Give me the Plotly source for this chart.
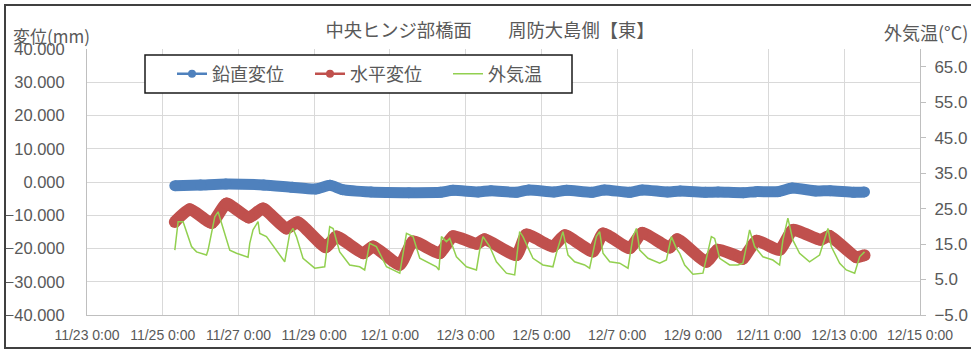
import plotly.graph_objects as go

# 鉛直変位 (mm)
vert_time = [
    "2019-11-25 07:40", "2019-11-26 00:00", "2019-11-26 16:00", "2019-11-27 16:00",
    "2019-11-28 10:00", "2019-11-29 01:00", "2019-11-29 10:00", "2019-11-29 18:00",
    "2019-11-30 12:00", "2019-12-01 12:00", "2019-12-02 08:00", "2019-12-02 16:00",
    "2019-12-03 08:00", "2019-12-03 16:00", "2019-12-04 08:00", "2019-12-04 16:00",
    "2019-12-05 08:00", "2019-12-05 16:00", "2019-12-06 08:00", "2019-12-06 16:00",
    "2019-12-07 08:00", "2019-12-07 16:00", "2019-12-08 08:00", "2019-12-08 16:00",
    "2019-12-09 08:00", "2019-12-09 16:00", "2019-12-10 08:00", "2019-12-10 16:00",
    "2019-12-11 06:00", "2019-12-11 15:00", "2019-12-12 06:00", "2019-12-12 15:00",
    "2019-12-13 06:00", "2019-12-13 12:50",
]
vert_mm = [
    -1.1, -0.9, -0.6, -0.9,
    -1.6, -2.1, -1.0, -2.3,
    -3.0, -3.2, -3.1, -2.5,
    -3.0, -2.6, -3.1, -2.4,
    -3.0, -2.5, -3.1, -2.4,
    -3.1, -2.4, -3.0, -2.7,
    -3.1, -3.0, -3.2, -2.9,
    -2.9, -1.8, -2.7, -2.6,
    -3.1, -3.0,
]

# 水平変位 (mm)
horiz_time = [
    "2019-11-25 07:40", "2019-11-25 17:10", "2019-11-26 07:05", "2019-11-26 16:25",
    "2019-11-27 06:30", "2019-11-27 15:35", "2019-11-28 06:25", "2019-11-28 13:35",
    "2019-11-29 07:20", "2019-11-29 14:05", "2019-11-30 07:00", "2019-11-30 13:20",
    "2019-12-01 06:15", "2019-12-01 14:40", "2019-12-02 07:35", "2019-12-02 16:00",
    "2019-12-03 07:00", "2019-12-03 12:00", "2019-12-04 08:10", "2019-12-04 14:30",
    "2019-12-05 07:20", "2019-12-05 14:50", "2019-12-06 08:40", "2019-12-06 15:05",
    "2019-12-07 08:00", "2019-12-07 15:55", "2019-12-08 09:20", "2019-12-08 14:05",
    "2019-12-09 08:35", "2019-12-09 15:40", "2019-12-10 05:40", "2019-12-10 07:45",
    "2019-12-10 16:20", "2019-12-11 07:00", "2019-12-11 15:25", "2019-12-12 09:00",
    "2019-12-12 14:40", "2019-12-13 07:35", "2019-12-13 12:50",
]
horiz_mm = [
    -12.0, -8.2, -12.3, -6.5,
    -10.7, -8.0, -14.0, -12.1,
    -19.6, -16.4, -21.4, -19.4,
    -24.9, -17.9, -21.4, -16.3,
    -18.6, -17.2, -22.0, -15.8,
    -19.4, -16.0, -20.9, -15.5,
    -19.9, -15.3, -19.7, -17.2,
    -24.0, -20.4, -22.6, -23.1,
    -17.7, -20.4, -14.4, -17.4,
    -16.2, -22.6, -22.0,
]

# 外気温 (°C)
temp_time = [
    "2019-11-25 07:40", "2019-11-25 09:45", "2019-11-25 12:55", "2019-11-25 18:15",
    "2019-11-25 21:25", "2019-11-26 03:45", "2019-11-26 04:45", "2019-11-26 09:00",
    "2019-11-26 11:05", "2019-11-26 13:15", "2019-11-26 18:30", "2019-11-26 22:45",
    "2019-11-27 06:05", "2019-11-27 07:10", "2019-11-27 09:15", "2019-11-27 12:25",
    "2019-11-27 13:30", "2019-11-27 17:45", "2019-11-28 00:05", "2019-11-28 05:20",
    "2019-11-28 08:30", "2019-11-28 10:35", "2019-11-28 12:45", "2019-11-28 16:55",
    "2019-11-29 00:20", "2019-11-29 06:40", "2019-11-29 09:50", "2019-11-29 12:00",
    "2019-11-29 16:10", "2019-11-29 22:30", "2019-11-30 04:50", "2019-11-30 08:00",
    "2019-11-30 11:10", "2019-11-30 15:25", "2019-11-30 21:50", "2019-12-01 06:15",
    "2019-12-01 10:30", "2019-12-01 14:40", "2019-12-01 18:55", "2019-12-02 05:30",
    "2019-12-02 07:05", "2019-12-02 08:40", "2019-12-02 11:50", "2019-12-02 13:55",
    "2019-12-02 18:10", "2019-12-03 00:30", "2019-12-03 06:50", "2019-12-03 08:55",
    "2019-12-03 11:00", "2019-12-03 15:15", "2019-12-03 19:30", "2019-12-04 01:50",
    "2019-12-04 07:05", "2019-12-04 10:15", "2019-12-04 12:20", "2019-12-04 18:40",
    "2019-12-05 01:00", "2019-12-05 07:20", "2019-12-05 09:30", "2019-12-05 13:40",
    "2019-12-05 16:55", "2019-12-05 21:05", "2019-12-06 03:25", "2019-12-06 06:35",
    "2019-12-06 10:50", "2019-12-06 12:55", "2019-12-06 15:05", "2019-12-06 19:20",
    "2019-12-07 01:40", "2019-12-07 06:55", "2019-12-07 10:05", "2019-12-07 12:15",
    "2019-12-07 14:20", "2019-12-07 19:35", "2019-12-08 03:00", "2019-12-08 07:15",
    "2019-12-08 10:25", "2019-12-08 13:35", "2019-12-08 15:40", "2019-12-08 18:50",
    "2019-12-09 00:05", "2019-12-09 06:25", "2019-12-09 11:45", "2019-12-09 13:50",
    "2019-12-09 17:00", "2019-12-09 23:20", "2019-12-10 04:35", "2019-12-10 07:45",
    "2019-12-10 09:55", "2019-12-10 12:00", "2019-12-10 15:10", "2019-12-10 20:25",
    "2019-12-11 02:45", "2019-12-11 07:00", "2019-12-11 09:05", "2019-12-11 12:15",
    "2019-12-11 15:25", "2019-12-11 19:40", "2019-12-12 02:00", "2019-12-12 08:20",
    "2019-12-12 13:40", "2019-12-12 15:45", "2019-12-12 21:05", "2019-12-13 01:15",
    "2019-12-13 06:35", "2019-12-13 09:45", "2019-12-13 12:50",
]
temp_c = [
    13.3, 21.3, 21.3, 14.3,
    12.8, 11.9, 13.3, 22.7,
    24.1, 20.9, 13.3, 12.4,
    11.3, 15.2, 19.0, 21.3,
    18.0, 17.1, 13.3, 10.0,
    18.0, 19.4, 17.1, 11.0,
    8.2, 8.6, 19.9, 19.4,
    12.8, 9.1, 8.6, 7.7,
    15.2, 14.3, 8.6, 6.8,
    18.0, 17.1, 11.0, 8.6,
    7.7, 17.1, 15.7, 16.6,
    11.4, 8.6, 7.7, 13.3,
    17.1, 14.3, 10.0, 6.8,
    6.3, 18.5, 17.1, 11.0,
    9.1, 8.6, 12.4, 18.5,
    11.9, 10.0, 9.1, 8.2,
    17.1, 18.5, 12.4, 10.0,
    9.6, 8.2, 17.1, 19.4,
    13.3, 11.0, 9.6, 10.5,
    17.1, 13.8, 12.4, 9.1,
    6.5, 6.8, 17.1, 16.6,
    11.0, 9.1, 9.1, 9.6,
    14.3, 19.0, 14.3, 11.4,
    10.5, 9.1, 16.1, 22.3,
    16.1, 12.4, 10.0, 11.9,
    19.4, 14.3, 9.6, 7.7,
    6.8, 11.4, 12.8,
]

x_range = ["2019-11-23 00:00", "2019-12-15 00:00"]
x_tick0 = "2019-11-23 00:00"
TWO_DAYS_MS = 2 * 24 * 60 * 60 * 1000

BLUE = "#4F81BD"
RED = "#C0504D"
GREEN = "#92D050"
TEXT = "#595959"
GRID = "#D9D9D9"
AXIS = "#BFBFBF"
FONT = "Liberation Sans, Noto Sans CJK JP, sans-serif"
CJK = "Noto Sans CJK JP, sans-serif"

W, H = 971, 350
ML, MR, MT, MB = 87, 51, 49, 35
PW, PH = W - ML - MR, H - MT - MB


def px_x(x):
    return (x - ML) / PW


def px_y(y):
    return (H - MB - y) / PH


fig = go.Figure()

# thick displacement bands
fig.add_trace(go.Scatter(
    x=vert_time, y=vert_mm, mode="lines+markers", showlegend=False,
    line=dict(color=BLUE, width=11, shape="spline", smoothing=0.6),
    marker=dict(color=BLUE, size=11),
    yaxis="y",
))
fig.add_trace(go.Scatter(
    x=horiz_time, y=horiz_mm, mode="lines+markers", showlegend=False,
    line=dict(color=RED, width=12, shape="spline", smoothing=0.5),
    marker=dict(color=RED, size=12),
    yaxis="y",
))
fig.add_trace(go.Scatter(
    x=temp_time, y=temp_c, mode="lines", showlegend=False,
    line=dict(color=GREEN, width=1.5), yaxis="y2",
))

# legend entries
fig.add_trace(go.Scatter(
    x=[None], y=[None], mode="lines+markers", name="鉛直変位",
    line=dict(color=BLUE, width=2.5), marker=dict(color=BLUE, size=8),
))
fig.add_trace(go.Scatter(
    x=[None], y=[None], mode="lines+markers", name="水平変位",
    line=dict(color=RED, width=2.5), marker=dict(color=RED, size=8),
))
fig.add_trace(go.Scatter(
    x=[None], y=[None], mode="lines", name="外気温",
    line=dict(color=GREEN, width=1.5), yaxis="y2",
))

fig.update_layout(
    width=W, height=H,
    margin=dict(l=ML, r=MR, t=MT, b=MB, pad=0, autoexpand=False),
    paper_bgcolor="white", plot_bgcolor="white",
    font=dict(family=FONT, color=TEXT, size=17),
    title=dict(
        text="中央ヒンジ部橋面　　周防大島側【東】",
        x=490 / W, xanchor="center", y=1 - 31 / H, yanchor="middle",
        font=dict(family=CJK, size=18.3, color=TEXT),
    ),
    xaxis=dict(
        type="date", range=x_range, tick0=x_tick0, dtick=TWO_DAYS_MS,
        tickformat="%-m/%-d %-H:%M", showgrid=True, gridcolor=GRID, gridwidth=1,
        showline=True, linecolor=AXIS, linewidth=1, ticks="",
        tickfont=dict(size=14, color=TEXT), ticklabelstandoff=7,
        zeroline=False, automargin=False,
    ),
    yaxis=dict(
        range=[-40, 40], dtick=10, tick0=0, tickformat=".3f",
        showgrid=True, gridcolor=GRID, gridwidth=1, zeroline=False,
        showline=True, linecolor=AXIS, linewidth=1, ticks="",
        tickfont=dict(size=16.5, color=TEXT), ticklabelstandoff=18,
        automargin=False,
    ),
    yaxis2=dict(
        overlaying="y", side="right", range=[-5, 70], tick0=-5, dtick=10,
        tickformat=".1f", showgrid=False, zeroline=False,
        showline=True, linecolor=AXIS, linewidth=1,
        ticks="outside", ticklen=5, tickcolor=AXIS,
        tickfont=dict(size=17, color=TEXT), ticklabelstandoff=5,
        automargin=False,
    ),
    legend=dict(
        orientation="h", x=px_x(172), xanchor="left", y=px_y(74), yanchor="middle",
        bgcolor="rgba(0,0,0,0)", borderwidth=0,
        font=dict(family=CJK, size=18, color=TEXT),
        entrywidth=93, entrywidthmode="pixels",
        itemclick=False,
    ),
    shapes=[
        # legend frame
        dict(type="rect", xref="paper", yref="paper", layer="above",
             x0=px_x(145), x1=px_x(572), y0=px_y(93), y1=px_y(55),
             line=dict(color="#1a1a1a", width=1.5), fillcolor="white"),
        # chart frame
        dict(type="rect", xref="paper", yref="paper", layer="above",
             x0=px_x(5), x1=px_x(980), y0=px_y(348), y1=px_y(5),
             line=dict(color="#404040", width=2), fillcolor="rgba(0,0,0,0)"),
    ],
    annotations=[
        dict(text="変位(mm)", xref="paper", yref="paper", x=px_x(11), y=px_y(35),
             xanchor="left", yanchor="middle", showarrow=False,
             font=dict(family=CJK, size=17, color=TEXT)),
        dict(text="外気温(°C)", xref="paper", yref="paper", x=px_x(882), y=px_y(32),
             xanchor="left", yanchor="middle", showarrow=False,
             font=dict(family=CJK, size=18, color=TEXT)),
    ],
)

fig.write_html("out.html")
